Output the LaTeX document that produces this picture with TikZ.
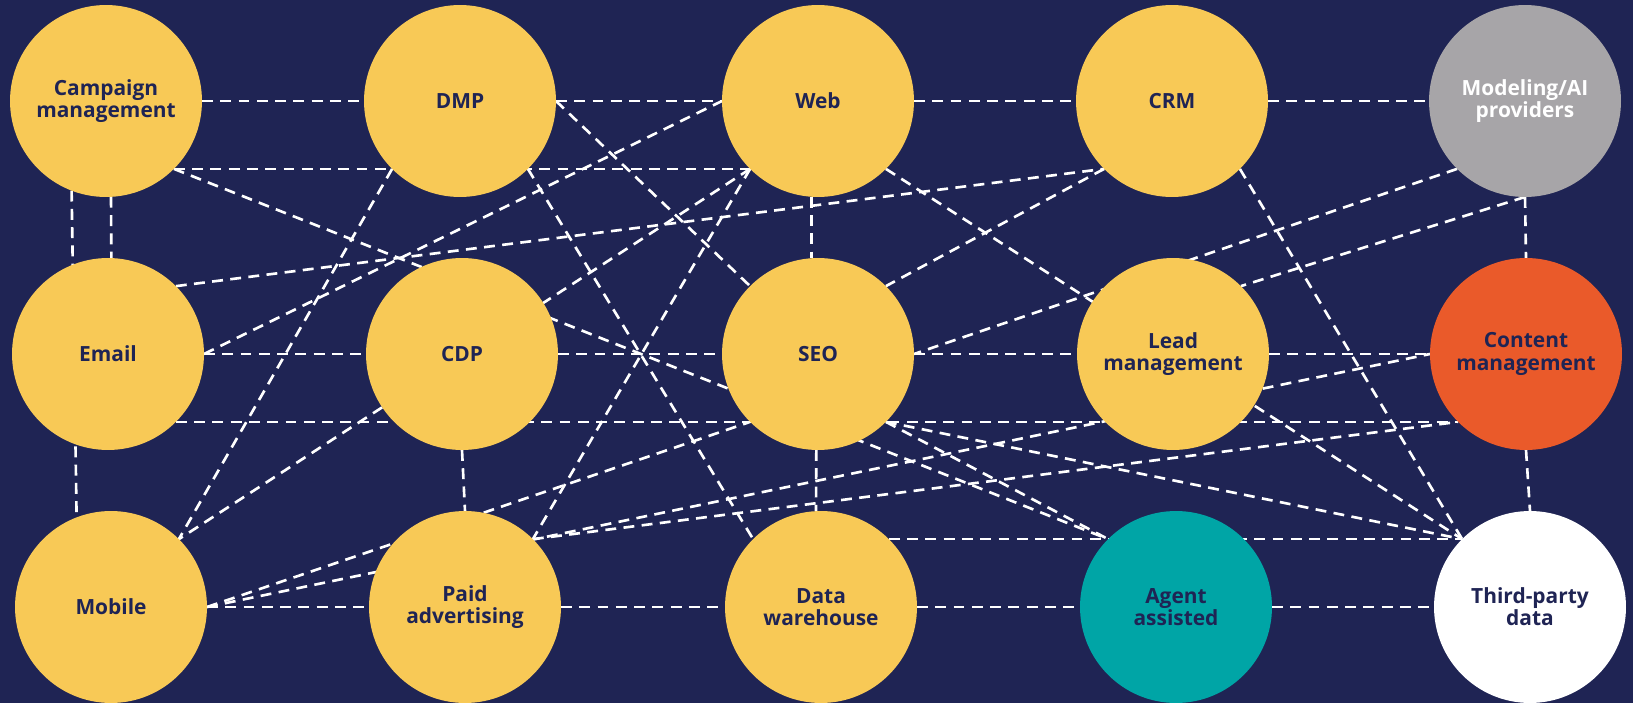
\documentclass[tikz,border=0pt]{standalone}
\usepackage{fontspec}
\setmainfont{Open Sans}
\usepackage{tikz}
\usetikzlibrary{backgrounds, positioning}

\definecolor{navybg}{HTML}{1F2454}
\definecolor{hubyellow}{HTML}{F8C956}
\definecolor{hubgrey}{HTML}{A7A5A8}
\definecolor{huborange}{HTML}{EA5A2A}
\definecolor{hubteal}{HTML}{00A5A6}

\tikzset{
  % Channel / system circles
  hub/.style={
    circle, minimum size=3.84cm, inner sep=0pt, outer sep=0pt,
    fill=#1, text=navybg, align=center,
    font=\fontsize{11.9}{12.6}\selectfont\bfseries,
  },
  hub/.default={hubyellow},
  % Dashed links between hubs
  link/.style={draw=white, line width=1.5pt, dash pattern=on 6.2pt off 4.2pt},
}

\begin{document}
\begin{tikzpicture}[x=0.02cm, y=-0.02cm]
  \useasboundingbox (0,0) rectangle (1633,703);

  % Top row
  \node[hub] (camp) at (106,101) {Campaign\\management};
  \node[hub] (dmp) at (460,101) {DMP};
  \node[hub] (web) at (818,101) {Web};
  \node[hub] (crm) at (1172,101) {CRM};
  \node[hub=hubgrey, text=white] (model) at (1525,101) {Modeling/AI\\providers};

  % Middle row
  \node[hub] (email) at (108,354) {Email};
  \node[hub] (cdp) at (462,354) {CDP};
  \node[hub] (seo) at (818,354) {SEO};
  \node[hub] (lead) at (1173,354) {Lead\\management};
  \node[hub=huborange] (content) at (1526,354) {Content\\management};

  % Bottom row
  \node[hub] (mobile) at (111,607) {Mobile};
  \node[hub] (paid) at (465,607) {Paid\\advertising};
  \node[hub] (dw) at (821,607) {Data\\warehouse};
  \node[hub=hubteal] (agent) at (1176,607) {Agent\\assisted};
  \node[hub=white] (third) at (1530,607) {Third-party\\data};

  \begin{scope}[on background layer]
    \fill[navybg] (0,0) rectangle (1633,703);

    % Row links
    \draw[link] (camp.east) -- (dmp.west);
    \draw[link] (dmp.east) -- (web.west);
    \draw[link] (web.east) -- (crm.west);
    \draw[link] (crm.east) -- (model.west);
    \draw[link] (email.east) -- (cdp.west);
    \draw[link] (cdp.east) -- (seo.west);
    \draw[link] (seo.east) -- (lead.west);
    \draw[link] (lead.east) -- (content.west);
    \draw[link] (mobile.east) -- (paid.west);
    \draw[link] (paid.east) -- (dw.west);
    \draw[link] (dw.east) -- (agent.west);
    \draw[link] (agent.east) -- (third.west);

    % Long horizontals running behind the circles
    \draw[link] (camp.-45) -- (web.-135);
    \draw[link] (email.-45) -- (content.-135);
    \draw[link] (dw.45) -- (third.135);

    % Column links
    \draw[link] (camp.-111) -- (mobile.111);
    \draw[link] (camp.-87) -- (email.88);
    \draw[link] (web.-94) -- (seo.94);
    \draw[link] (cdp.south) -- (paid.north);
    \draw[link] (seo.-91) -- (dw.93);
    \draw[link] (model.south) -- (content.north);
    \draw[link] (content.south) -- (third.north);

    % Diagonals
    \draw[link] (camp.-45) -- (agent.135);
    \draw[link] (email.east) -- (web.west);
    \draw[link] (email.45) -- (crm.-135);
    \draw[link] (crm.-135) -- (seo.45);
    \draw[link] (dmp.east) -- (seo.135);
    \draw[link] (dmp.-45) -- (dw.135);
    \draw[link] (dmp.-135) -- (mobile.45);
    \draw[link] (web.-135) -- (mobile.45);
    \draw[link] (web.-135) -- (paid.45);
    \draw[link] (web.-45) -- (third.135);
    \draw[link] (crm.-45) -- (third.135);
    \draw[link] (model.-135) -- (seo.east);
    \draw[link] (model.south) -- (lead.45);
    \draw[link] (mobile.east) -- (seo.-135);
    \draw[link] (mobile.east) -- (content.west);
    \draw[link] (paid.45) -- (content.-135);
    \draw[link] (seo.-45) -- (agent.135);
    \draw[link] (seo.-45) -- (third.135);
  \end{scope}
\end{tikzpicture}
\end{document}
